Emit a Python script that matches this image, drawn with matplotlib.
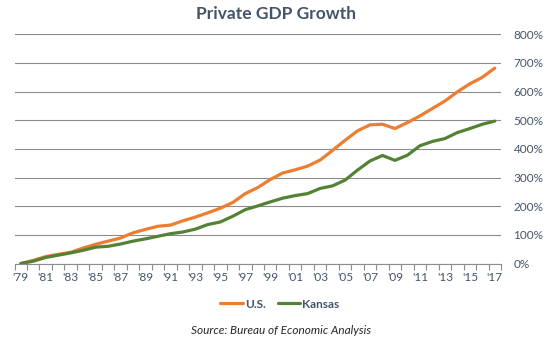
import numpy as np
import matplotlib
matplotlib.use("Agg")
import matplotlib.pyplot as plt
from matplotlib.ticker import FixedLocator, FuncFormatter

# data (growth since 1979, %)
years = list(range(1979, 2018))
us = [0, 11, 24, 32, 39, 54, 67, 78, 89, 107, 119, 130, 134, 149, 162, 177,
      193, 213, 244, 265, 293, 316, 327, 340, 361, 395, 430, 463, 484, 486,
      471, 492, 515, 541, 567, 599, 627, 650, 682]
kansas = [0, 8, 21, 29, 37, 46, 57, 60, 68, 78, 86, 95, 104, 110, 120, 136,
          145, 165, 188, 201, 215, 228, 237, 244, 262, 271, 291, 326, 358, 377,
          360, 378, 411, 426, 436, 457, 471, 486, 497]
y_ticks = [0, 100, 200, 300, 400, 500, 600, 700, 800]

orange = "#ED7D31"
green = "#548235"
txt = "#44546A"
grid = "#8C8C8C"

plt.rcParams['font.family'] = ['Lato', 'DejaVu Sans']

fig = plt.figure(figsize=(5.53, 3.45), dpi=100)
ax = fig.add_axes([14.5 / 553, 81.5 / 345, (501 - 14.5) / 553, (263.5 - 34.3) / 345])

ax.plot(years, us, color=orange, lw=2.3, label="U.S.", solid_capstyle="round")
ax.plot(years, kansas, color=green, lw=2.3, label="Kansas", solid_capstyle="round")

ax.set_xlim(1978.5, 2017.5)
ax.set_ylim(0, 800)

# y axis on the right, gridlines
ax.yaxis.tick_right()
ax.set_yticks(y_ticks)
ax.yaxis.set_major_formatter(FuncFormatter(lambda v, p: "%d%%" % v))
ax.tick_params(axis="y", length=0, pad=9, labelsize=8.5, labelcolor=txt)
ax.grid(axis="y", color=grid, lw=0.8)
ax.set_axisbelow(True)

# x axis: labels every other year, tick marks at year boundaries
ax.set_xticks(years[::2])
ax.set_xticklabels(["'" + str(y)[2:] for y in years[::2]])
ax.xaxis.set_minor_locator(FixedLocator(np.arange(1978.5, 2018, 1)))
ax.tick_params(axis="x", which="major", length=0, pad=6, labelsize=8.5, labelcolor=txt)
ax.tick_params(axis="x", which="minor", length=4, width=0.8, color=grid, direction="out")

for s in ["top", "left", "right"]:
    ax.spines[s].set_visible(False)
ax.spines["bottom"].set_color(grid)
ax.spines["bottom"].set_linewidth(0.8)

fig.text(276.5 / 553, 1 - 14 / 345, "Private GDP Growth", ha="center", va="center",
         fontsize=12.5, fontweight="bold", color=txt)

leg = fig.legend(loc="center", bbox_to_anchor=(280 / 553, 1 - 304 / 345), ncol=2,
                 frameon=False, fontsize=8.5, handlelength=1.9, handletextpad=0.2,
                 columnspacing=1.0)
for t in leg.get_texts():
    t.set_color(txt)
    t.set_fontweight("bold")

fig.text(281 / 553, 1 - 330 / 345, "Source: Bureau of Economic Analysis", ha="center",
         va="center", fontsize=8.5, style="italic", color="#262626")

fig.savefig("out.png", dpi=100)
